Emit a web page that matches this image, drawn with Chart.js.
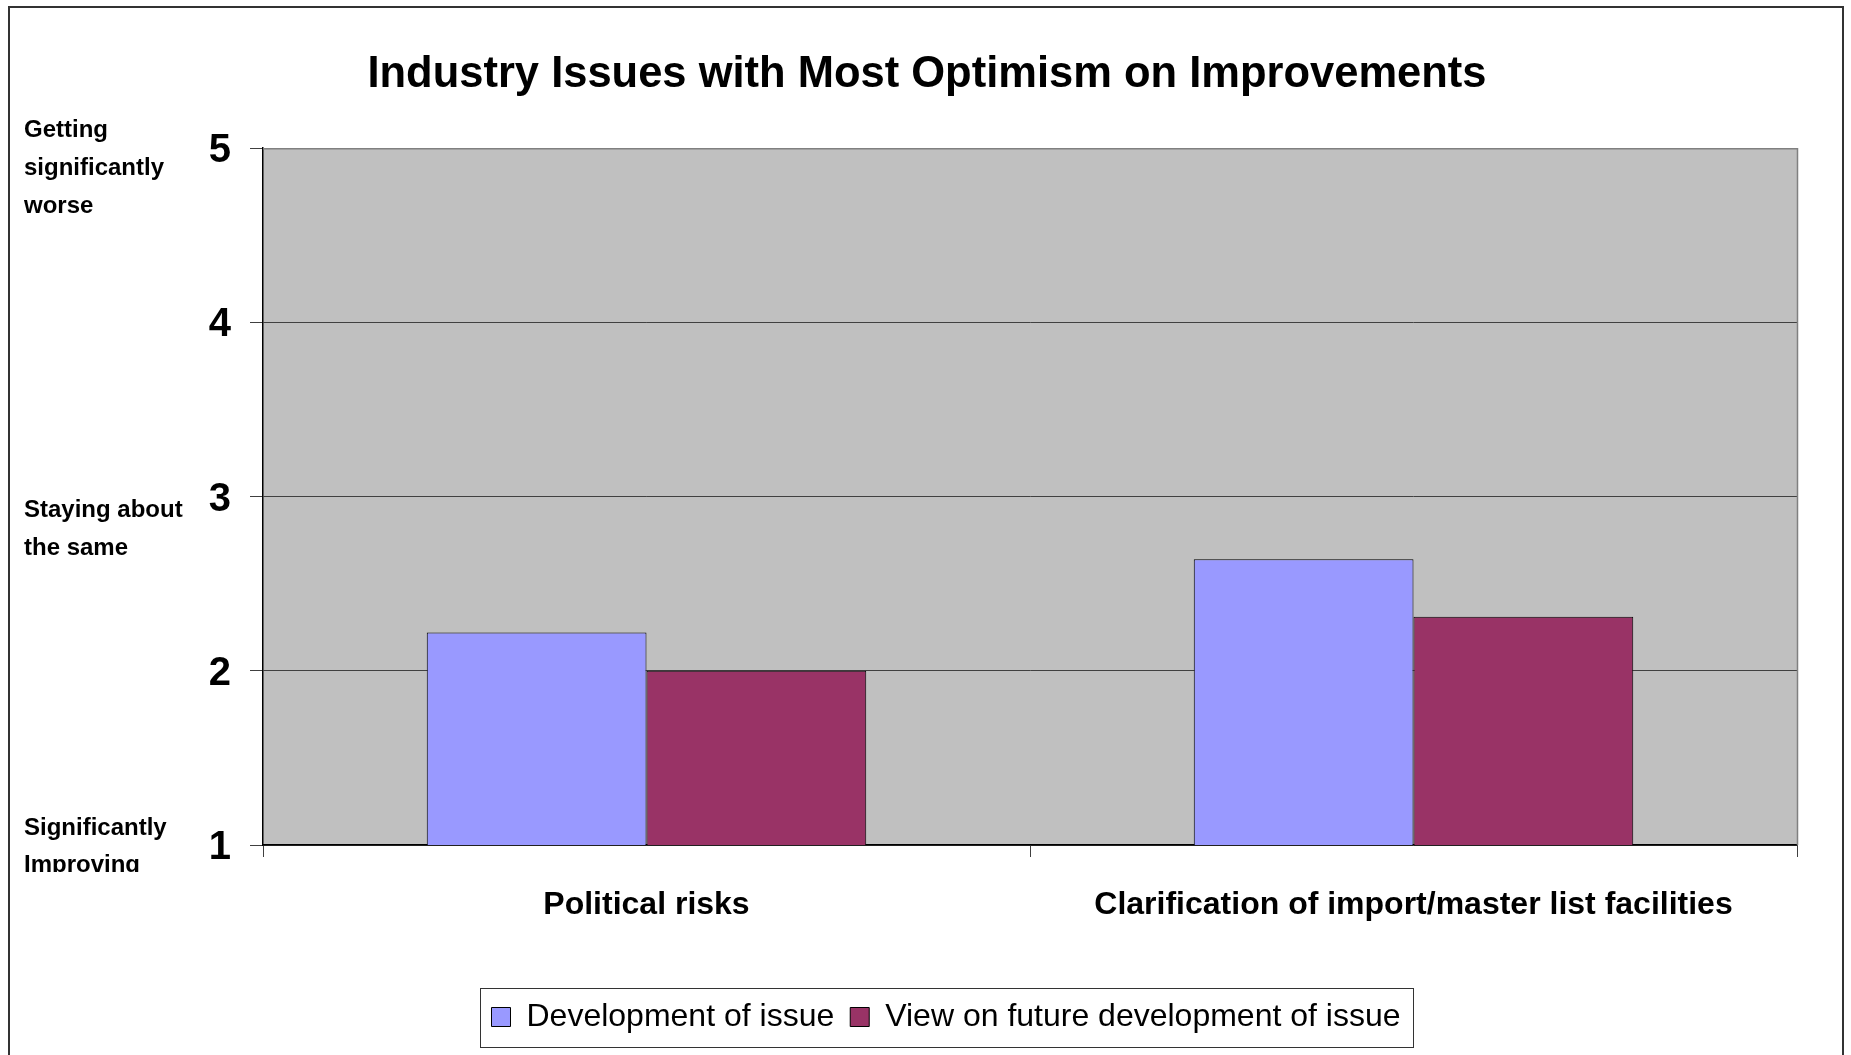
<!DOCTYPE html>
<html>
<head>
<meta charset="utf-8">
<script src="https://cdn.jsdelivr.net/npm/chart.js@4/dist/chart.umd.min.js"></script>
<style>
  html, body { margin: 0; padding: 0; background: #ffffff; }
  #wrap { width: 1851px; height: 1055px; position: relative; }
</style>
</head>
<body>
<div id="wrap"><canvas id="c" width="1851" height="1055"></canvas></div>
<script>
const TITLE = 'Industry Issues with Most Optimism on Improvements';
const categories = ['Political risks', 'Clarification of import/master list facilities'];
const seriesNames = ['Development of issue', 'View on future development of issue'];
const developmentOfIssue = [2.22, 2.64];
const viewOnFutureDevelopment = [2.0, 2.31];
const yTicks = [1, 2, 3, 4, 5];
const scaleNotes = [
  { value: 5, lines: ['Getting', 'significantly', 'worse'] },
  { value: 3, lines: ['Staying about', 'the same'] },
  { value: 1, lines: ['Significantly', 'Improving'] }
];

const NARROW = '"Liberation Sans Narrow", "Arial Narrow", "Liberation Sans", Arial, sans-serif';
const LEGEND_SHIFT = 19;

const decorPlugin = {
  id: 'decor',
  afterLayout(chart) {
    const lg = chart.legend;
    if (lg) { lg.left += LEGEND_SHIFT; lg.right += LEGEND_SHIFT; }
  },
  beforeDraw(chart) {
    const { ctx, chartArea: a } = chart;
    ctx.save();
    ctx.fillStyle = '#ffffff';
    ctx.fillRect(0, 0, chart.width, chart.height);
    ctx.fillStyle = '#C0C0C0';
    ctx.fillRect(a.left, a.top, a.right - a.left, a.bottom - a.top);
    ctx.restore();
  },
  afterDraw(chart) {
    const { ctx, chartArea: a } = chart;
    const y = chart.scales.y;
    ctx.save();
    // plot area top/right border
    ctx.strokeStyle = '#808080';
    ctx.lineWidth = 1.5;
    ctx.beginPath();
    ctx.moveTo(a.left, a.top + 0.5);
    ctx.lineTo(a.right + 0.5, a.top + 0.5);
    ctx.lineTo(a.right + 0.5, a.bottom);
    ctx.stroke();
    // outer frame
    ctx.strokeStyle = '#333333';
    ctx.lineWidth = 2;
    ctx.strokeRect(9, 7, 1834, 1100);
    // scale notes on the left
    ctx.beginPath();
    ctx.rect(0, 0, chart.width, 872);
    ctx.clip();
    ctx.fillStyle = '#000000';
    ctx.font = 'bold 24px ' + NARROW;
    ctx.textBaseline = 'middle';
    ctx.textAlign = 'left';
    const offsets = { 5: -17.6, 3: 14, 1: -17 };
    scaleNotes.forEach(n => {
      const base = y.getPixelForValue(n.value) + offsets[n.value];
      n.lines.forEach((t, i) => ctx.fillText(t, 24, base + i * 37.8));
    });
    ctx.restore();
    // legend frame
    const lg = chart.legend;
    if (lg && lg.legendHitBoxes && lg.legendHitBoxes.length) {
      const hb = lg.legendHitBoxes;
      let l = Infinity, r = -Infinity, t = Infinity, b = -Infinity;
      hb.forEach(h => { l = Math.min(l, h.left); r = Math.max(r, h.left + h.width); t = Math.min(t, h.top); b = Math.max(b, h.top + h.height); });
      ctx.save();
      ctx.strokeStyle = '#333333';
      ctx.lineWidth = 1;
      ctx.strokeRect(Math.round(l - 12) + 0.5, Math.round(t - 13) + 0.5, Math.round(r - l + 24), Math.round(b - t + 27));
      ctx.restore();
    }
  }
};

new Chart(document.getElementById('c'), {
  type: 'bar',
  data: {
    labels: categories,
    datasets: [
      { label: seriesNames[0], data: developmentOfIssue, backgroundColor: '#9999FF', borderColor: '#000000', borderWidth: 1 },
      { label: seriesNames[1], data: viewOnFutureDevelopment, backgroundColor: '#993366', borderColor: '#000000', borderWidth: 1 }
    ]
  },
  options: {
    responsive: false,
    animation: false,
    devicePixelRatio: 1,
    layout: { padding: { left: 57, right: 54, top: 0, bottom: 12 } },
    datasets: { bar: { barPercentage: 1.0, categoryPercentage: 0.573 } },
    plugins: {
      title: {
        display: true, text: TITLE, color: '#000000',
        font: { family: NARROW, size: 43.5, weight: 'bold' },
        padding: { top: 49, bottom: 47 }
      },
      legend: {
        display: true, position: 'bottom',
        labels: {
          color: '#000000', font: { family: NARROW, size: 32 },
          boxWidth: 19, boxHeight: 19, padding: 16,
          generateLabels(chart) {
            return chart.data.datasets.map((d, i) => ({
              text: d.label, fillStyle: d.backgroundColor, strokeStyle: '#000000', lineWidth: 1, datasetIndex: i, hidden: false
            }));
          }
        }
      },
      tooltip: { enabled: false }
    },
    scales: {
      x: {
        offset: true,
        grid: { display: true, drawOnChartArea: false, drawTicks: true, tickLength: 12, color: '#404040', offset: true },
        border: { display: true, color: '#000000', width: 1.5 },
        ticks: { color: '#000000', font: { family: NARROW, size: 32, weight: 'bold' }, padding: 29, maxRotation: 0, autoSkip: false },
        afterFit(s) { s.height = 140; }
      },
      y: {
        min: 1, max: 5,
        afterBuildTicks(s) { s.ticks = yTicks.map(v => ({ value: v })); },
        grid: { color: '#404040', lineWidth: 1, tickLength: 13, drawTicks: true },
        border: { display: true, color: '#000000', width: 1.5 },
        ticks: { color: '#000000', font: { family: NARROW, size: 40, weight: 'bold' }, padding: 19, labelOffset: 3 },
        afterFit(s) { s.width = 206; }
      }
    }
  },
  plugins: [decorPlugin]
});
</script>
</body>
</html>
